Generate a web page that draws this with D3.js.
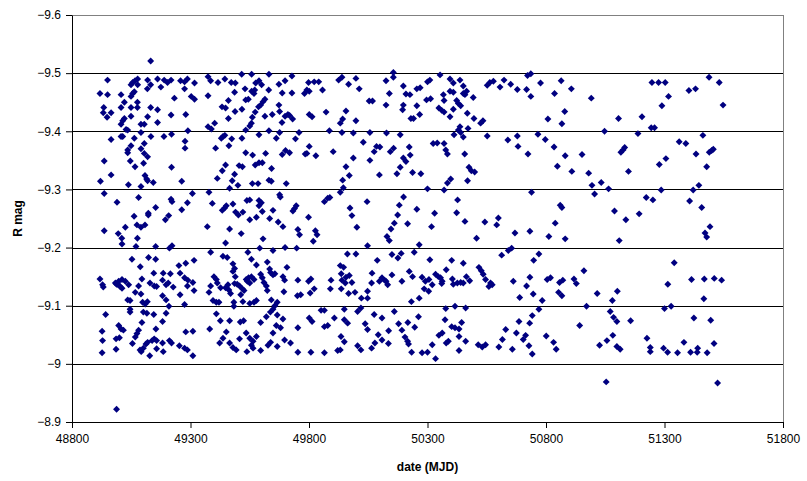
<!DOCTYPE html>
<html lang="en">
<head>
<meta charset="utf-8">
<title>R mag vs date</title>
<script src="https://d3js.org/d3.v7.min.js"></script>
<style>
  body { margin: 0; background: #fff; }
  svg text { font-family: "Liberation Sans", Arial, sans-serif; }
</style>
</head>
<body>
<script>

// observations [MJD, R mag], grouped by date range
var seg1 = [
  [49132,-9.521],[48950,-9.488],[48918,-9.465],[48950,-9.463],[49007,-9.463],[48934,-9.441],[48932,-9.432],[48965,-9.432],
  [48948,-9.424],[49007,-9.441],[49021,-9.450],[49049,-9.441],[49049,-9.426],[49076,-9.441],[49076,-9.450],[49049,-9.460],
  [49056,-9.465],[49063,-9.468],[49049,-9.480],[49056,-9.484],[49066,-9.487],[49077,-9.490],[49077,-9.480],[49119,-9.488],
  [49118,-9.473],[49132,-9.480],[49161,-9.490],[49175,-9.476],[49189,-9.488],[49203,-9.484],[49218,-9.488],[49258,-9.487],
  [49232,-9.457],[49132,-9.441],[49161,-9.437],[49161,-9.415],[49119,-9.425],[49218,-9.428],[49021,-9.422],[49014,-9.418],
  [49007,-9.412],[49091,-9.412],[49105,-9.412],[49028,-9.403],[49035,-9.402],[49091,-9.398],[49133,-9.391],[49188,-9.391],
  [49220,-9.395],[48965,-9.386],[49014,-9.391],[49007,-9.391],[49063,-9.388],[49049,-9.375],[49035,-9.368],[49035,-9.363],
  [49105,-9.379],[49091,-9.370],[49105,-9.362],[49119,-9.356],[48936,-9.349],[49046,-9.349],[49066,-9.339],[49102,-9.345],
  [49220,-9.338],[48965,-9.325],[48920,-9.314],[49038,-9.308],[49108,-9.324],[49115,-9.318],[49119,-9.315],[49143,-9.312],
  [49091,-9.305],[49263,-9.314],[48936,-9.293],[48990,-9.278],[49081,-9.286],[49218,-9.283],[49222,-9.279],[49153,-9.269],
  [49122,-9.259],[49263,-9.265],
  [49062,-9.254],[49122,-9.256],[49208,-9.255],[49194,-9.248],[48936,-9.229],[49025,-9.235],[48995,-9.224],[49010,-9.216],
  [49011,-9.206],[49076,-9.216],[49074,-9.239],[49091,-9.235],[49108,-9.239],[49070,-9.202],[49153,-9.202],[49211,-9.199],
  [49222,-9.203],[49053,-9.180],[49123,-9.183],[49153,-9.180],[49088,-9.167],[49251,-9.169],[48918,-9.146],[48929,-9.136],
  [48932,-9.132],[48983,-9.139],[48997,-9.142],[49011,-9.145],[49025,-9.142],[49039,-9.136],[49003,-9.133],[49011,-9.130],
  [48988,-9.137],[48995,-9.136],[49095,-9.146],[49081,-9.134],[49091,-9.120],[49067,-9.123],[49129,-9.139],[49147,-9.134],
  [49157,-9.133],[49145,-9.156],[49185,-9.156],[49215,-9.155],[49256,-9.156],[49182,-9.144],[49197,-9.136],[49206,-9.139],
  [49227,-9.132],[49256,-9.119],[49182,-9.117],[49197,-9.110],[49209,-9.099],[49035,-9.110],[49045,-9.109],[49098,-9.106],
  [49109,-9.103],[49118,-9.107],[48942,-9.085],[49045,-9.094],[49045,-9.089],[49101,-9.089],[49116,-9.087],[49145,-9.085],
  [49197,-9.087],[49095,-9.071],[49182,-9.073],[49154,-9.060],[48927,-9.056],[48997,-9.066],[49007,-9.060],[49017,-9.058],
  [48929,-9.040],[48986,-9.043],[49000,-9.045],[49081,-9.058],[49074,-9.052],[49067,-9.046],[49055,-9.035],[48927,-9.019],
  [48986,-9.025],[49087,-9.024],[49092,-9.021],[49101,-9.027],[49112,-9.034],[49128,-9.014],[49119,-9.037],[49138,-9.040],
  [49147,-9.043],[49157,-9.040],[49157,-9.026],[49182,-9.036],[49185,-9.021],[49211,-9.040],[49220,-9.036],[49253,-9.031],
  [48988,-8.922]
];

var seg2 = [
  [49287,-9.490],[49275,-9.485],[49275,-9.473],[49317,-9.483],[49374,-9.494],[49385,-9.487],[49416,-9.484],[49445,-9.490],
  [49472,-9.484],[49489,-9.483],[49516,-9.498],[49558,-9.498],[49631,-9.498],[49575,-9.483],[49589,-9.487],[49600,-9.480],
  [49673,-9.481],[49699,-9.487],[49728,-9.495],[49781,-9.465],[49374,-9.461],[49303,-9.460],[49317,-9.455],[49486,-9.467],
  [49530,-9.473],[49558,-9.469],[49571,-9.471],[49568,-9.465],[49630,-9.471],[49687,-9.466],[49728,-9.466],[49460,-9.453],
  [49533,-9.454],[49544,-9.455],[49614,-9.455],[49606,-9.451],[49596,-9.445],[49587,-9.442],[49433,-9.442],[49448,-9.440],
  [49488,-9.434],[49517,-9.438],[49573,-9.433],[49561,-9.424],[49673,-9.445],[49676,-9.434],[49614,-9.426],[49645,-9.429],
  [49699,-9.426],[49711,-9.429],[49718,-9.427],[49731,-9.421],[49686,-9.415],[49280,-9.429],[49460,-9.422],[49402,-9.414],
  [49374,-9.408],[49388,-9.404],[49557,-9.414],[49550,-9.409],[49533,-9.402],[49631,-9.401],[49589,-9.394],[49676,-9.398],
  [49758,-9.398],[49289,-9.401],[49277,-9.383],[49277,-9.371],[49437,-9.391],[49445,-9.393],[49430,-9.388],[49474,-9.387],
  [49517,-9.388],[49662,-9.388],[49743,-9.387],[49462,-9.375],[49406,-9.371],[49533,-9.363],[49562,-9.359],[49617,-9.362],
  [49687,-9.360],[49701,-9.367],[49718,-9.363],[49784,-9.361],[49448,-9.342],[49434,-9.332],[49505,-9.341],[49519,-9.339],
  [49573,-9.342],[49589,-9.346],[49603,-9.346],[49642,-9.336],[49486,-9.326],[49413,-9.319],[49476,-9.315],[49500,-9.307],
  [49465,-9.302],[49631,-9.316],[49641,-9.314],[49561,-9.310],[49585,-9.310],[49704,-9.310],[49308,-9.293],[49378,-9.295],
  [49287,-9.277],[49392,-9.276],[49451,-9.272],[49444,-9.268],[49479,-9.275],[49434,-9.264],[49490,-9.261],[49521,-9.261],
  [49538,-9.281],[49550,-9.282],[49589,-9.281],[49599,-9.277],[49589,-9.272],[49603,-9.262],[49648,-9.264],[49676,-9.291],
  [49679,-9.287],[49746,-9.272],[49739,-9.267],[49732,-9.263],
  [49502,-9.256],[49550,-9.248],[49578,-9.252],[49634,-9.250],[49670,-9.244],[49690,-9.236],[49753,-9.231],[49760,-9.222],
  [49371,-9.236],[49465,-9.232],[49514,-9.224],[49606,-9.215],[49448,-9.208],[49592,-9.199],[49648,-9.195],[49699,-9.200],
  [49748,-9.199],[49385,-9.192],[49437,-9.185],[49455,-9.183],[49542,-9.192],[49557,-9.180],[49578,-9.170],[49624,-9.175],
  [49634,-9.163],[49648,-9.153],[49638,-9.157],[49656,-9.155],[49707,-9.166],[49690,-9.150],[49697,-9.144],[49753,-9.144],
  [49479,-9.172],[49486,-9.164],[49479,-9.159],[49489,-9.150],[49280,-9.173],[49315,-9.178],[49275,-9.148],[49289,-9.144],
  [49287,-9.134],[49310,-9.140],[49315,-9.126],[49399,-9.150],[49409,-9.145],[49413,-9.139],[49385,-9.134],[49378,-9.123],
  [49427,-9.131],[49448,-9.131],[49458,-9.136],[49462,-9.127],[49469,-9.121],[49486,-9.138],[49497,-9.137],[49507,-9.134],
  [49519,-9.129],[49526,-9.126],[49512,-9.119],[49535,-9.145],[49545,-9.148],[49557,-9.150],[49568,-9.145],[49550,-9.139],
  [49540,-9.142],[49596,-9.154],[49603,-9.148],[49610,-9.140],[49620,-9.134],[49624,-9.126],[49694,-9.124],[49751,-9.117],
  [49765,-9.119],[49395,-9.109],[49409,-9.106],[49420,-9.106],[49483,-9.106],[49483,-9.099],[49521,-9.107],[49550,-9.104],
  [49568,-9.106],[49578,-9.109],[49641,-9.110],[49666,-9.106],[49656,-9.100],[49648,-9.094],[49637,-9.089],[49275,-9.102],
  [49409,-9.086],[49426,-9.074],[49465,-9.074],[49510,-9.072],[49524,-9.074],[49596,-9.071],[49620,-9.081],[49666,-9.084],
  [49690,-9.077],[49662,-9.066],[49680,-9.062],[49381,-9.060],[49451,-9.055],[49535,-9.053],[49280,-9.055],[49310,-9.056],
  [49753,-9.062],[49437,-9.044],[49423,-9.036],[49465,-9.036],[49479,-9.028],[49493,-9.024],[49507,-9.043],[49550,-9.044],
  [49564,-9.039],[49578,-9.047],[49557,-9.032],[49564,-9.027],[49538,-9.021],[49596,-9.023],[49627,-9.032],[49638,-9.037],
  [49666,-9.030],[49697,-9.041],[49722,-9.036],[49753,-9.020],[49648,-9.053],[49275,-9.027],[49287,-9.024],[49310,-9.014]
];

var seg3 = [
  [49798,-9.484],[49791,-9.471],[49801,-9.469],[49822,-9.485],[49841,-9.485],[49857,-9.471],[49925,-9.488],[49939,-9.493],
  [49967,-9.481],[49998,-9.491],[50012,-9.473],[50125,-9.487],[50156,-9.501],[50156,-9.493],[50139,-9.465],[50198,-9.478],
  [50209,-9.464],[50226,-9.463],[50255,-9.473],[50269,-9.475],[50300,-9.485],[50054,-9.452],[50068,-9.452],[50125,-9.445],
  [50198,-9.445],[50195,-9.437],[50255,-9.444],[50296,-9.454],[49801,-9.429],[49813,-9.425],[49872,-9.433],[49956,-9.435],
  [49942,-9.421],[49932,-9.414],[49998,-9.418],[50230,-9.422],[50241,-9.422],[50267,-9.429],[49886,-9.401],[49939,-9.398],
  [49987,-9.397],[50057,-9.398],[50127,-9.397],[50185,-9.394],[49801,-9.374],[49791,-9.362],[49829,-9.358],[49902,-9.365],
  [50029,-9.381],[50085,-9.374],[50099,-9.373],[50075,-9.365],[50057,-9.350],[49987,-9.354],[49956,-9.339],[49970,-9.324],
  [49942,-9.316],[49945,-9.303],[49932,-9.295],[50143,-9.365],[50157,-9.371],[50223,-9.373],[50227,-9.359],[50198,-9.354],
  [50209,-9.348],[50185,-9.338],[50171,-9.327],[50097,-9.325],[50237,-9.329],[50272,-9.327],[50300,-9.301],[49865,-9.279],
  [49879,-9.285],[49888,-9.286],[50045,-9.279],[49973,-9.268],[50199,-9.287],[50181,-9.273],[50255,-9.266],
  [49798,-9.252],[49981,-9.255],[50174,-9.256],[50002,-9.235],[49827,-9.229],[49834,-9.222],[49818,-9.211],[50129,-9.219],
  [50139,-9.212],[50146,-9.232],[50160,-9.242],[50216,-9.241],[50047,-9.203],[50265,-9.205],[49962,-9.189],[49998,-9.189],
  [50088,-9.178],[50150,-9.188],[50175,-9.182],[50189,-9.190],[50244,-9.192],[49932,-9.169],[49946,-9.166],[49936,-9.155],
  [49956,-9.149],[49970,-9.152],[49939,-9.144],[49953,-9.139],[49981,-9.140],[49893,-9.144],[49890,-9.129],[49808,-9.146],
  [49798,-9.142],[49822,-9.129],[49805,-9.122],[49936,-9.129],[49967,-9.121],[49994,-9.123],[50021,-9.113],[50047,-9.113],
  [50047,-9.125],[50064,-9.139],[50066,-9.156],[50097,-9.142],[50108,-9.148],[50119,-9.144],[50132,-9.136],[50125,-9.142],
  [50150,-9.153],[50192,-9.142],[50223,-9.159],[50237,-9.150],[50277,-9.149],[50291,-9.142],[50286,-9.129],[50305,-9.125],
  [50265,-9.113],[50232,-9.107],[49851,-9.092],[49865,-9.092],[49801,-9.079],[49813,-9.073],[49865,-9.064],[49879,-9.066],
  [49907,-9.079],[49949,-9.094],[49949,-9.076],[49963,-9.070],[50005,-9.090],[50019,-9.096],[50037,-9.069],[50047,-9.059],
  [50075,-9.085],[50108,-9.079],[50160,-9.090],[50136,-9.057],[50178,-9.069],[50192,-9.058],[50217,-9.071],[50246,-9.063],
  [50262,-9.081],[49935,-9.047],[49949,-9.038],[50005,-9.031],[50019,-9.024],[49921,-9.023],[49932,-9.024],[50064,-9.027],
  [50078,-9.036],[50092,-9.050],[50108,-9.041],[50135,-9.035],[50205,-9.046],[50216,-9.039],[50220,-9.034],[50233,-9.020],
  [50277,-9.019],[50300,-9.020],[49808,-9.020],[49865,-9.019]
];

var seg4 = [
  [50310,-9.488],[50353,-9.497],[50395,-9.490],[50409,-9.483],[50437,-9.488],[50451,-9.478],[50313,-9.456],[50367,-9.463],
  [50370,-9.453],[50395,-9.469],[50409,-9.467],[50451,-9.465],[50465,-9.469],[50458,-9.463],[50493,-9.458],[50423,-9.453],
  [50430,-9.448],[50440,-9.444],[50348,-9.440],[50360,-9.436],[50370,-9.433],[50409,-9.438],[50395,-9.425],[50468,-9.431],
  [50496,-9.422],[50524,-9.414],[50534,-9.418],[50552,-9.479],[50563,-9.484],[50578,-9.486],[50606,-9.476],[50623,-9.488],
  [50651,-9.481],[50679,-9.472],[50718,-9.472],[50722,-9.496],[50736,-9.499],[50736,-9.460],[50777,-9.483],[50808,-9.421],
  [50437,-9.408],[50430,-9.402],[50440,-9.398],[50412,-9.394],[50451,-9.390],[50471,-9.405],[50552,-9.392],[50639,-9.385],
  [50679,-9.392],[50682,-9.374],[50766,-9.395],[50797,-9.386],[50324,-9.379],[50341,-9.380],[50370,-9.379],[50377,-9.368],
  [50384,-9.361],[50457,-9.361],[50724,-9.361],[50475,-9.338],[50485,-9.332],[50499,-9.330],[50469,-9.315],[50384,-9.311],
  [50398,-9.318],[50370,-9.299],[50739,-9.295],[50427,-9.282],[50330,-9.259],[50423,-9.260],
  [50317,-9.236],[50458,-9.245],[50542,-9.244],[50599,-9.251],[50592,-9.239],[50507,-9.216],[50669,-9.225],[50732,-9.228],
  [50812,-9.219],[50310,-9.179],[50402,-9.178],[50451,-9.173],[50613,-9.187],[50641,-9.195],[50655,-9.199],[50748,-9.178],
  [50770,-9.189],[50306,-9.145],[50320,-9.136],[50334,-9.154],[50346,-9.150],[50355,-9.148],[50362,-9.142],[50360,-9.138],
  [50379,-9.162],[50405,-9.146],[50409,-9.137],[50426,-9.139],[50440,-9.140],[50451,-9.139],[50464,-9.150],[50478,-9.143],
  [50517,-9.166],[50527,-9.160],[50535,-9.154],[50545,-9.145],[50566,-9.139],[50573,-9.136],[50559,-9.133],[50662,-9.142],
  [50732,-9.149],[50718,-9.134],[50689,-9.114],[50746,-9.120],[50784,-9.109],[50805,-9.145],[50819,-9.148],[50377,-9.095],
  [50416,-9.099],[50461,-9.096],[50374,-9.076],[50402,-9.064],[50416,-9.062],[50433,-9.060],[50444,-9.071],[50348,-9.049],
  [50362,-9.053],[50433,-9.047],[50461,-9.039],[50379,-9.036],[50388,-9.039],[50320,-9.033],[50334,-9.009],[50433,-9.023],
  [50514,-9.033],[50531,-9.029],[50545,-9.033],[50601,-9.029],[50616,-9.042],[50630,-9.059],[50658,-9.025],[50675,-9.053],
  [50686,-9.073],[50704,-9.042],[50714,-9.049],[50728,-9.031],[50731,-9.070],[50742,-9.083],[50742,-9.017],[50770,-9.094],
  [50801,-9.048]
];

var seg5 = [
  [50864,-9.487],[50836,-9.465],[50907,-9.473],[50991,-9.457],[50879,-9.434],[50867,-9.413],[51106,-9.422],[51205,-9.425],
  [51247,-9.484],[51275,-9.484],[51303,-9.484],[51317,-9.460],[51289,-9.444],[51244,-9.406],[51258,-9.406],[51047,-9.400],
  [51188,-9.396],[50834,-9.373],[50848,-9.340],[50881,-9.358],[50952,-9.360],[50909,-9.331],[50980,-9.328],[50994,-9.307],
  [51005,-9.292],[51033,-9.312],[51064,-9.301],[51116,-9.364],[51125,-9.368],[51132,-9.372],[51148,-9.331],[51278,-9.343],
  [51306,-9.353],[51286,-9.299],[51223,-9.286],[51251,-9.282],[50860,-9.273],[50867,-9.269],[51089,-9.263],[51193,-9.258],
  [50839,-9.242],[50881,-9.215],[51137,-9.248],[51109,-9.212],[51341,-9.174],[50960,-9.160],[50857,-9.140],[50871,-9.144],
  [50918,-9.146],[50928,-9.138],[50853,-9.123],[50867,-9.117],[51016,-9.121],[51101,-9.125],[51080,-9.109],[51314,-9.137],
  [50971,-9.099],[51300,-9.095],[51328,-9.099],[51071,-9.090],[51085,-9.080],[51099,-9.073],[51157,-9.074],[50942,-9.066],
  [50832,-9.037],[50843,-9.025],[51026,-9.032],[51057,-9.040],[51082,-9.049],[51099,-9.030],[51113,-9.025],[51226,-9.044],
  [51240,-9.028],[51240,-9.021],[51296,-9.027],[51313,-9.020],[51054,-8.969]
];

var seg6 = [
  [51488,-9.493],[51531,-9.484],[51403,-9.470],[51431,-9.473],[51547,-9.445],[51462,-9.393],[51362,-9.382],[51390,-9.379],
  [51433,-9.361],[51489,-9.364],[51499,-9.367],[51506,-9.369],[51478,-9.339],[51445,-9.307],[51421,-9.299],[51406,-9.280],
  [51457,-9.269],[51492,-9.236],[51471,-9.225],[51478,-9.218],[51414,-9.145],[51468,-9.146],[51510,-9.147],[51541,-9.144],
  [51466,-9.112],[51424,-9.079],[51495,-9.075],[51382,-9.037],[51355,-9.019],[51410,-9.020],[51438,-9.020],[51440,-9.027],
  [51480,-9.019],[51509,-9.035],[51524,-8.967]
];

var xTicks = [48800, 49300, 49800, 50300, 50800, 51300, 51800];
var yTicks = [-9.6, -9.5, -9.4, -9.3, -9.2, -9.1, -9, -8.9];

var data = seg1.concat(seg2, seg3, seg4, seg5, seg6);

var W = 807, H = 481;
var margin = {top: 15, right: 24, bottom: 59, left: 72};
var width = W - margin.left - margin.right;
var height = H - margin.top - margin.bottom;

var svg = d3.select("body").append("svg")
            .attr("width", W)
            .attr("height", H);

var g = svg.append("g").attr("transform", "translate(" + margin.left + "," + margin.top + ")");

var x = d3.scaleLinear().domain([48800, 51800]).range([0, width]);
// reversed magnitude axis: -9.6 at top
var y = d3.scaleLinear().domain([-9.6, -8.9]).range([0, height]);

// plot area frame
g.append("rect")
 .attr("x", 0.5).attr("y", 0.5)
 .attr("width", width).attr("height", height)
 .attr("fill", "none")
 .attr("stroke", "#808080");

// gridlines
g.selectAll(".grid")
 .data(yTicks.slice(1, -1))
 .enter().append("line")
 .attr("class", "grid")
 .attr("x1", 0).attr("x2", width)
 .attr("y1", function(d) { return Math.round(y(d)) + 0.5; })
 .attr("y2", function(d) { return Math.round(y(d)) + 0.5; })
 .attr("stroke", "#000")
 .attr("stroke-width", 1);

var xAxis = g.append("g")
 .attr("transform", "translate(0," + height + ")")
 .call(d3.axisBottom(x).tickValues(xTicks).tickSize(6).tickSizeOuter(0).tickPadding(6).tickFormat(d3.format("d")));

var yAxis = g.append("g")
 .call(d3.axisLeft(y).tickValues(yTicks).tickSize(6).tickSizeOuter(0).tickPadding(5).tickFormat(function(d) { return d3.format("")(d); }));

[xAxis, yAxis].forEach(function(a) {
  a.selectAll("path").attr("stroke", "#000");
  a.selectAll("line").attr("stroke", "#000");
  a.selectAll("text").attr("font-size", 12).attr("fill", "#000")
   .style("font-family", "'Liberation Sans', Arial, sans-serif");
});

// points
var diamond = d3.symbol().type(d3.symbolSquare).size(24);
g.selectAll(".dot")
 .data(data)
 .enter().append("path")
 .attr("class", "dot")
 .attr("d", diamond)
 .attr("transform", function(d) { return "translate(" + x(d[0]) + "," + y(d[1]) + ") rotate(45)"; })
 .attr("fill", "#000080");

// axis titles
svg.append("text")
   .attr("x", margin.left + width / 2)
   .attr("y", 471)
   .attr("text-anchor", "middle")
   .attr("font-size", 12)
   .attr("font-weight", "bold")
   .text("date (MJD)");

svg.append("text")
   .attr("transform", "translate(22," + (margin.top + height / 2) + ") rotate(-90)")
   .attr("text-anchor", "middle")
   .attr("font-size", 12)
   .attr("font-weight", "bold")
   .text("R mag");

</script>
</body>
</html>
